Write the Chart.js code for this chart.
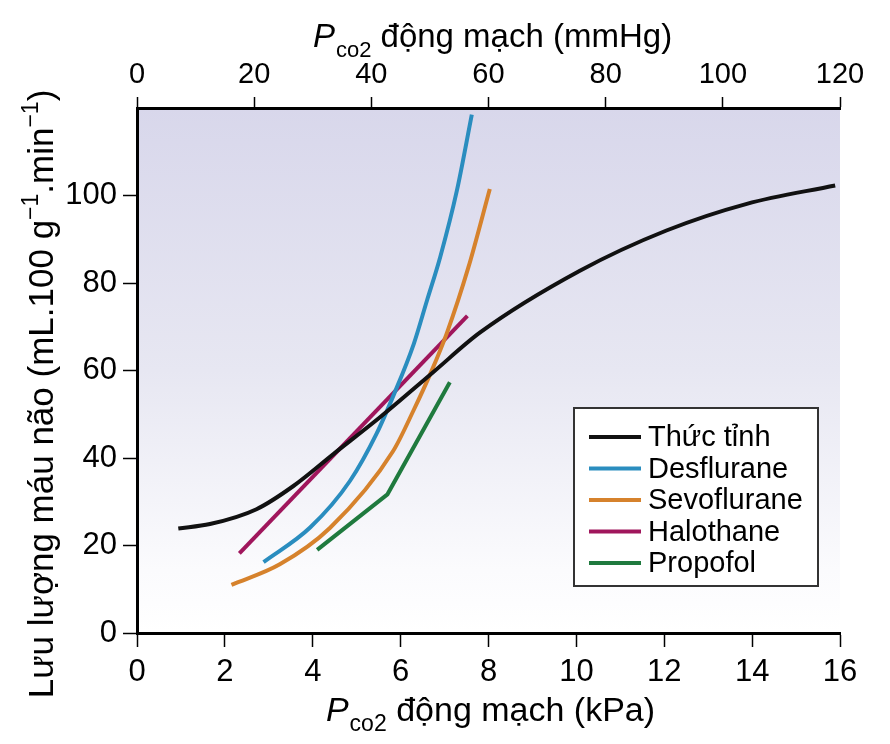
<!DOCTYPE html>
<html>
<head>
<meta charset="utf-8">
<script src="https://cdn.jsdelivr.net/npm/chart.js@4.4.1/dist/chart.umd.min.js"></script>
<style>
  html, body { margin: 0; padding: 0; background: #fff; }
  #wrap { width: 890px; height: 744px; }
</style>
</head>
<body>
<div id="wrap"><canvas id="chart" width="890" height="744"></canvas></div>
<script>
// du lieu doc tu hinh (x: kPa, y: mL/100g/min)
const awakeX = [0.94, 1.66, 2.72, 3.56, 4.47, 5.53, 6.74, 7.81, 10.08, 12.05, 13.88, 15.89];
const awakeY = [23.9, 24.9, 28.3, 33.6, 40.9, 49.3, 59.6, 68.7, 82.8, 92.0, 98.1, 102.3];

const desX = [2.88, 3.94, 4.85, 5.45, 5.85, 6.30, 6.60, 6.90, 7.28, 7.62];
const desY = [16.2, 24.1, 34.8, 45.5, 54.6, 66.1, 76.0, 85.9, 101.1, 118.5];

const sevoX = [2.15, 3.25, 4.39, 5.83, 6.29, 6.70, 7.05, 7.54, 8.03];
const sevoY = [11.0, 15.7, 24.0, 41.6, 50.8, 59.8, 68.5, 83.5, 101.5];

const haloX = [2.33, 7.52];
const haloY = [18.2, 72.5];

const propX = [4.10, 5.70, 7.12];
const propY = [19.0, 31.7, 57.3];

const seriesNames = ['Thức tỉnh', 'Desflurane', 'Sevoflurane', 'Halothane', 'Propofol'];
const seriesColors = ['#111111', '#2a8dbf', '#d6822c', '#a0165c', '#1f7a3e'];

const kpaTicks = [0, 2, 4, 6, 8, 10, 12, 14, 16];
const mmhgTicks = [0, 20, 40, 60, 80, 100, 120];
const flowTicks = [0, 20, 40, 60, 80, 100];

const FONT = "'Liberation Sans', Arial, sans-serif";
Chart.defaults.font.family = FONT;
Chart.defaults.color = '#000';

function pts(xs, ys) {
  return xs.map((x, i) => ({ x: x, y: ys[i] }));
}

const allData = [
  pts(awakeX, awakeY),
  pts(desX, desY),
  pts(sevoX, sevoY),
  pts(haloX, haloY),
  pts(propX, propY)
];

const datasets = allData.map((d, i) => ({
  label: seriesNames[i],
  data: d,
  borderColor: seriesColors[i],
  borderWidth: 4,
  pointRadius: 0,
  fill: false,
  borderCapStyle: 'butt',
  cubicInterpolationMode: i === 4 ? 'default' : 'monotone',
  tension: 0
}));

// nen tim nhat trong vung ve
const bgPlugin = {
  id: 'bg',
  beforeDraw(chart) {
    const { ctx, chartArea: a } = chart;
    const g = ctx.createLinearGradient(0, a.top, 0, a.bottom);
    g.addColorStop(0, 'rgb(216,215,235)');
    g.addColorStop(0.5, 'rgb(231,231,242)');
    g.addColorStop(0.88, 'rgb(251,251,253)');
    g.addColorStop(1, '#ffffff');
    ctx.save();
    ctx.fillStyle = g;
    ctx.fillRect(a.left, a.top, a.right - a.left, a.bottom - a.top);
    ctx.restore();
  }
};

// tieu de truc: P(co2) + chu
function drawPTitle(ctx, cx, base, rest, size) {
  const sub = Math.round(size * 0.68);
  ctx.font = 'italic ' + size + 'px ' + FONT;
  const wP = ctx.measureText('P').width;
  ctx.font = sub + 'px ' + FONT;
  const wS = ctx.measureText('co2').width;
  ctx.font = size + 'px ' + FONT;
  const wR = ctx.measureText(rest).width;
  let x = cx - (wP + wS + wR) / 2;
  ctx.textBaseline = 'alphabetic';
  ctx.textAlign = 'left';
  ctx.font = 'italic ' + size + 'px ' + FONT;
  ctx.fillText('P', x, base);
  x += wP + 1;
  ctx.font = sub + 'px ' + FONT;
  ctx.fillText('co2', x, base + size * 0.3);
  x += wS;
  ctx.font = size + 'px ' + FONT;
  ctx.fillText(rest, x, base);
}

const titlePlugin = {
  id: 'titles',
  afterDraw(chart) {
    const ctx = chart.ctx;
    ctx.save();
    ctx.fillStyle = '#000';
    drawPTitle(ctx, 492, 47, ' động mạch (mmHg)', 33);
    drawPTitle(ctx, 490, 721, ' động mạch (kPa)', 34);

    // truc y, xoay doc
    const size = 35, sup = 23;
    const parts = [
      ['Lưu lượng máu não (mL.100 g', false],
      ['−1', true],
      ['.min', false],
      ['−1', true],
      [')', false]
    ];
    let total = 0;
    parts.forEach(p => {
      ctx.font = (p[1] ? sup : size) + 'px ' + FONT;
      total += ctx.measureText(p[0]).width;
    });
    ctx.translate(53, 394);
    ctx.rotate(-Math.PI / 2);
    let x = -total / 2;
    ctx.textBaseline = 'alphabetic';
    ctx.textAlign = 'left';
    parts.forEach(p => {
      ctx.font = (p[1] ? sup : size) + 'px ' + FONT;
      ctx.fillText(p[0], x, p[1] ? -size * 0.42 : 0);
      x += ctx.measureText(p[0]).width;
    });
    ctx.restore();
  }
};

// chu giai ben trong vung ve
const legendPlugin = {
  id: 'boxLegend',
  afterDatasetsDraw(chart) {
    const ctx = chart.ctx;
    const left = 574, top = 408, right = 818, bottom = 586;
    ctx.save();
    ctx.fillStyle = '#fff';
    ctx.fillRect(left, top, right - left, bottom - top);
    ctx.strokeStyle = '#333';
    ctx.lineWidth = 2;
    ctx.strokeRect(left, top, right - left, bottom - top);
    ctx.font = '29px ' + FONT;
    ctx.textBaseline = 'middle';
    ctx.textAlign = 'left';
    chart.data.datasets.forEach((ds, i) => {
      const y = 437 + i * 31.5;
      ctx.strokeStyle = ds.borderColor;
      ctx.lineWidth = 4;
      ctx.beginPath();
      ctx.moveTo(589, y);
      ctx.lineTo(641, y);
      ctx.stroke();
      ctx.fillStyle = '#000';
      ctx.fillText(ds.label, 648, y + 1);
    });
    ctx.restore();
  }
};

const axisLine = { display: true, color: '#000', width: 3 };
const tickGrid = { drawOnChartArea: false, drawTicks: true, tickLength: 14, tickColor: '#000', tickWidth: 1.5 };

new Chart(document.getElementById('chart'), {
  type: 'line',
  data: { datasets: datasets },
  options: {
    responsive: false,
    animation: false,
    devicePixelRatio: 1,
    layout: { padding: { left: 0, right: 50, top: 0, bottom: 0 } },
    plugins: {
      legend: { display: false },
      tooltip: { enabled: false }
    },
    scales: {
      x: {
        type: 'linear',
        position: 'bottom',
        min: 0, max: 16,
        afterBuildTicks: s => { s.ticks = kpaTicks.map(v => ({ value: v })); },
        ticks: { font: { size: 31 }, padding: 7, maxRotation: 0 },
        grid: tickGrid,
        border: axisLine,
        afterFit: s => { s.height = 111; }
      },
      x2: {
        type: 'linear',
        position: 'top',
        min: 0, max: 120,
        afterBuildTicks: s => { s.ticks = mmhgTicks.map(v => ({ value: v })); },
        ticks: { font: { size: 29 }, padding: 5, maxRotation: 0 },
        grid: Object.assign({}, tickGrid, { tickLength: 11 }),
        border: axisLine,
        afterFit: s => { s.height = 108; }
      },
      y: {
        type: 'linear',
        min: 0, max: 120,
        afterBuildTicks: s => { s.ticks = flowTicks.map(v => ({ value: v })); },
        ticks: { font: { size: 31 }, padding: 6 },
        grid: tickGrid,
        border: axisLine,
        afterFit: s => { s.width = 137; }
      }
    }
  },
  plugins: [bgPlugin, titlePlugin, legendPlugin]
});
</script>
</body>
</html>
